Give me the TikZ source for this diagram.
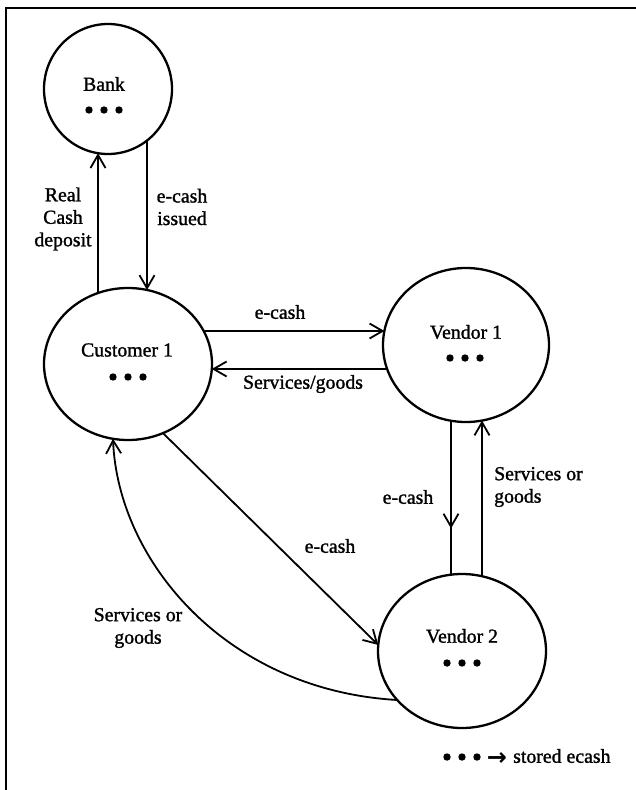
\documentclass[tikz,border=0pt]{standalone}
\usepackage{fontspec}
\setmainfont{Liberation Serif}[UprightFeatures={FakeBold=1.3}]
\newfontfamily\symfont{DejaVu Sans}
\usetikzlibrary{arrows.meta,shapes.geometric,calc,decorations.markings}
\begin{document}
\begin{tikzpicture}[x=1pt,y=-1pt,
  ell/.style={ellipse, draw, line width=2.3pt, inner sep=0pt, outer sep=0pt},
  lbl/.style={font=\fontsize{19.8}{22.5}\selectfont, inner sep=0pt, align=center},
  tipshape/.tip={Straight Barb[length=13pt,width=15pt]},
  arr/.style={line width=1.8pt, -tipshape},
  midarr/.style={line width=1.8pt, postaction={decorate},
    decoration={markings, mark=at position 0.70 with {\arrow{tipshape}}}},
  stored/.pic={\foreach \k in {-1,0,1} {\fill (\k*15,0) circle (3.7pt);}}
]
\useasboundingbox (0,0) rectangle (636,790);
% frame
\draw[line width=1.8pt] (6,790) -- (6,8) -- (636,8);

% nodes
\node[ell, minimum width=128pt, minimum height=130pt] (bank) at (108,89) {};
\node[ell, minimum width=168pt, minimum height=152pt] (cust) at (128,364) {};
\node[ell, minimum width=166pt, minimum height=154pt] (v1) at (466,345) {};
\node[ell, minimum width=168pt, minimum height=154pt] (v2) at (462,651) {};

\node[lbl] (bankname) at (104,84) {Bank};
\path (104,110) pic {stored};
\node[lbl] (custname) at (127,350) {Customer 1};
\path (128,377) pic {stored};
\node[lbl] (v1name) at (466,332) {Vendor 1};
\path (465,358) pic {stored};
\node[lbl] (v2name) at (462,636) {Vendor 2};
\path (462,663) pic {stored};

% connectors
\draw[arr] ($(cust.center)+(-30,{-76*sqrt(1-(30/84)^2)})$) -- ($(bank.center)+(-10,{65*sqrt(1-(10/64)^2)})$);
\draw[arr] ($(bank.center)+(39,{65*sqrt(1-(39/64)^2)})$) -- ($(cust.center)+(19,{-76*sqrt(1-(19/84)^2)})$);
\draw[arr] ($(cust.center)+({84*sqrt(1-(33/76)^2)},-33)$) -- ($(v1.center)+({-83*sqrt(1-(14/77)^2)},-14)$);
\draw[arr] ($(v1.center)+({-83*sqrt(1-(24/77)^2)},24)$) -- ($(cust.center)+({84*sqrt(1-(5/76)^2)},5)$);
\draw[midarr] ($(v1.center)+(-15,{77*sqrt(1-(15/83)^2)})$) -- ($(v2.center)+(-11,{-77*sqrt(1-(11/84)^2)})$);
\draw[arr] ($(v2.center)+(20,{-77*sqrt(1-(20/84)^2)})$) -- ($(v1.center)+(16,{77*sqrt(1-(16/83)^2)})$);
\draw[arr] ($(cust.center)+({84*cos(65.4)},{76*sin(65.4)})$) -- ($(v2.center)+({84*cos(184.5)},{77*sin(184.5)})$);
\draw[arr] ($(v2.center)+({-84*sqrt(1-(49/77)^2)},49)$) .. controls (225,690) and (118,560) .. ($(cust.center)+(-15,{76*sqrt(1-(15/84)^2)})$);

% labels
\node[lbl] (lrc) at (63,219) {Real\\Cash\\deposit};
\node[lbl] (lei) at (182,207) {e-cash\\issued};
\node[lbl] (le1) at (280,312) {e-cash};
\node[lbl] (lsg) at (303,384) {Services/goods};
\node[lbl] (le2) at (408,497) {e-cash};
\node[lbl, anchor=west, align=left] (lsg2) at (494,487) {Services or\\goods};
\node[lbl] (le3) at (330,546) {e-cash};
\node[lbl] (lsg3) at (138,628) {Services or\\goods};

% legend
\path (462,757) pic {stored};
\node[inner sep=0pt, font=\symfont\bfseries\fontsize{24}{26}\selectfont] (legarrow) at (497,759) {→};
\node[lbl, anchor=west] (legtext) at (513,756) {stored ecash};
\end{tikzpicture}
\end{document}
